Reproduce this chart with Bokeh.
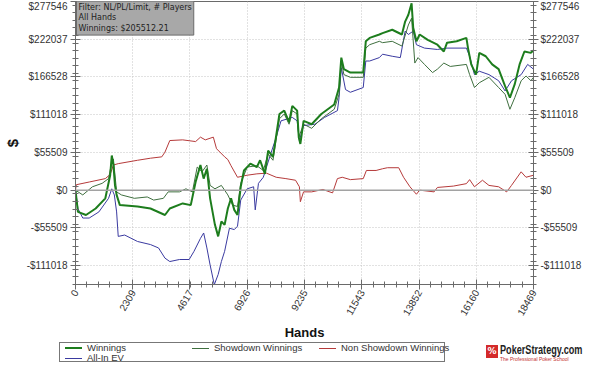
import numpy as np
from bokeh.plotting import figure
from bokeh.layouts import column
from bokeh.models import (Range1d, LinearAxis, FixedTicker, Span, Label, Div)
from bokeh.embed import file_html
from bokeh.resources import INLINE

# ---------------- data ----------------
x_tick_values = [0, 2309, 4617, 6926, 9235, 11543, 13852, 16160, 18469]
x_tick_labels = ["0", "2309", "4617", "6926", "9235", "11543", "13852", "16160", "18469"]
y_tick_values = [-111018, -55509, 0, 55509, 111018, 166528, 222037, 277546]
y_tick_labels = ["-$111018", "-$55509", "$0", "$55509", "$111018", "$166528", "$222037", "$277546"]

win_hands = [0, 98, 423, 813, 1203, 1398, 1463, 1528, 1593, 1658, 1788, 2502, 3023, 3608, 3803,
             4323, 4648, 4843, 5038, 5168, 5298, 5428, 5623, 5753, 5883, 6013, 6143, 6273, 6403,
             6533, 6663, 6793, 7053, 7313, 7443, 7638, 7768, 7963, 8223, 8418, 8613, 8743, 8938,
             9003, 9068, 9198, 9523, 9913, 10433, 10628, 10719, 10823, 11083, 11603, 11706, 11862,
             12252, 12383, 12773, 13163, 13293, 13423, 13553, 13618, 13748, 13878, 14203, 14593,
             14853, 14983, 15373, 15763, 15828, 15958, 16153, 16283, 16543, 16803, 17063, 17323,
             17518, 17713, 17908, 18103, 18363, 18469]
win_values = [0, -32000, -36500, -27000, -12000, 22000, 51000, 37000, 7000, -7000, -22000, -24000,
              -27000, -36500, -27000, -19500, -22000, 12000, 37000, 17000, 31500, -12000, -51000,
              -68000, -46000, -51000, -27000, -12000, -29000, -36500, 5000, 29000, 39000, 34000,
              44000, 24000, 58000, 49000, 112000, 117000, 100000, 124000, 117000, 78000, 68000,
              102000, 97000, 112000, 126000, 151000, 195000, 178000, 173000, 173000, 219000, 224000,
              229000, 231000, 236000, 229000, 248000, 258000, 275000, 239000, 219000, 229000,
              221000, 214000, 204000, 217000, 219000, 224000, 209000, 185000, 170000, 202000,
              197000, 185000, 178000, 153000, 136000, 156000, 185000, 204000, 202000, 205512]

sd_hands = [0, 293, 683, 1073, 1333, 1463, 1528, 1658, 1853, 2373, 2893, 3153, 3543, 3738, 4193,
            4453, 4713, 4908, 5103, 5298, 5428, 5623, 5883, 6143, 6338, 6533, 6663, 6923, 7313,
            7573, 7768, 7963, 8223, 8418, 8613, 8743, 8938, 9003, 9198, 9523, 9913, 10433, 10628,
            10719, 10823, 11083, 11603, 11706, 11862, 12252, 12383, 12773, 13163, 13423, 13553,
            13683, 13813, 14073, 14398, 14593, 14853, 15113, 15763, 15893, 16088, 16283, 16673,
            17063, 17323, 17518, 17713, 17973, 18168, 18363, 18469]
sd_values = [0, -7000, 5000, 10000, 17000, 41000, 46000, -2500, -7000, -12000, -10000, -14600,
             -12000, -2500, -2500, 2000, -2500, 34000, 27000, 37000, 7000, 2000, 7000, -7000,
             -22000, -24000, 10000, 34000, 36000, 29000, 53000, 44000, 105000, 112000, 97000,
             117000, 112000, 78000, 97000, 91000, 105000, 119000, 141000, 190000, 170000, 166000,
             166000, 209000, 214000, 219000, 217000, 219000, 212000, 243000, 253000, 187000,
             195000, 185000, 173000, 178000, 187000, 182000, 185000, 170000, 151000, 158000,
             166000, 151000, 141000, 119000, 136000, 161000, 168000, 161000, 166000]

nsd_hands = [0, 31, 554, 1201, 1396, 1529, 1724, 2504, 3023, 3479, 3608, 3803, 4321, 4844, 5039,
             5234, 5558, 5686, 6014, 6143, 6271, 6533, 6923, 7313, 7703, 8093, 8483, 8873, 9029,
             9068, 9196, 9524, 9976, 10366, 10561, 10756, 11084, 11603, 11731, 12121, 12383,
             12578, 13034, 13229, 13486, 13748, 13876, 14461, 14594, 15241, 15764, 15893, 16088,
             16411, 16673, 17063, 17386, 17581, 17971, 18166, 18469]
nsd_values = [0, 8000, 12000, 17000, 23000, 37000, 39000, 44000, 47000, 49000, 56000, 73000,
              74000, 71500, 78000, 74000, 78000, 61000, 49000, 45000, 36000, 19000, 22000, 24000,
              25000, 19000, 17000, 14600, 5000, -17000, -2500, -2500, 1000, -4000, 17000, 19000,
              15500, 17000, 29000, 29000, 31500, 33000, 33000, 19000, 5000, -6000, 0, -2500, 4000,
              6000, 9600, 15500, 5000, 14600, 7000, 5000, -2500, 7000, 27000, 19000, 22000]

ev_hands = [0, 98, 293, 553, 943, 1333, 1463, 1566, 1658, 1723, 1983, 2502, 3023, 3348, 3608,
            3803, 4193, 4583, 4778, 5038, 5168, 5298, 5428, 5597, 5753, 5883, 6013, 6208, 6403,
            6533, 6663, 6923, 7183, 7248, 7378, 7573, 7833, 8093, 8288, 8743, 8938, 9029, 9198,
            9653, 10043, 10563, 10628, 10719, 10888, 11083, 11603, 11706, 11862, 12252, 12383,
            12773, 13098, 13293, 13423, 13618, 13748, 14073, 14593, 14983, 15763, 15893, 16088,
            16283, 16673, 17063, 17323, 17583, 17973, 18233, 18469]
ev_values = [0, -27000, -41000, -41000, -32000, -12000, 2000, -7000, -32000, -68000, -66000,
             -75500, -80000, -85000, -100000, -105000, -102000, -102000, -90000, -71000, -63000,
             -85000, -110000, -139000, -124000, -105000, -90000, -56000, -58000, -53000, -14600,
             2000, 5000, -29000, 10000, 19000, 49000, 78000, 102000, 107000, 102000, 73000, 95000,
             97000, 107000, 117000, 136000, 180000, 148000, 144000, 151000, 190000, 190000,
             195000, 200000, 197000, 195000, 234000, 229000, 234000, 214000, 209000, 207000,
             209000, 209000, 197000, 170000, 175000, 170000, 161000, 146000, 161000, 170000,
             185000, 178000]

series_names = ["Winnings", "Showdown Winnings", "Non Showdown Winnings", "All-In EV"]
title_lines = ["Filter: NL/PL/Limit, # Players", "All Hands", "Winnings: $205512.21"]
logo_name = "PokerStrategy.com"
logo_tagline = "The Professional Poker School"

# ---------------- styles ----------------
Y_MIN, Y_MAX = -138773, 277546
X_MAX = 18469
AX = "#6a6a6a"
LBL = "#333333"
FONT = "Liberation Sans"
STYLES = {
    "Winnings": dict(line_color="#1d7d1d", line_width=2),
    "Showdown Winnings": dict(line_color="#3f6f3f", line_width=1),
    "Non Showdown Winnings": dict(line_color="#b53a3a", line_width=1),
    "All-In EV": dict(line_color="#3a3aa0", line_width=1),
}

# ---------------- main chart ----------------
p = figure(width=584, height=342, output_backend="svg", toolbar_location=None,
           x_range=Range1d(0, X_MAX), y_range=Range1d(Y_MIN, Y_MAX),
           min_border_left=70, min_border_right=46, min_border_top=1, min_border_bottom=54)
p.outline_line_color = AX
p.background_fill_color = "white"
p.border_fill_color = "white"

x_step = X_MAX / 8.0
x_minor = list(np.arange(0, X_MAX + 1, x_step / 5.0))
y_step = 277546 / 5.0
y_minor = list(np.arange(Y_MIN, Y_MAX + 1, y_step / 5.0))
xticker = FixedTicker(ticks=x_tick_values, minor_ticks=x_minor)
yticker = FixedTicker(ticks=y_tick_values, minor_ticks=y_minor)


def style_axis(ax, tick_in=5, tick_out=5):
    ax.axis_line_color = AX
    ax.major_tick_line_color = AX
    ax.minor_tick_line_color = AX
    ax.major_tick_in = tick_in
    ax.major_tick_out = tick_out
    ax.minor_tick_in = 3
    ax.minor_tick_out = 3
    ax.major_label_text_font = FONT
    ax.major_label_text_font_size = "10px"
    ax.major_label_text_color = LBL


xb = p.xaxis[0]
xb.ticker = xticker
xb.major_label_overrides = dict(zip(x_tick_values, x_tick_labels))
style_axis(xb)
xb.major_label_orientation = np.pi / 3
xb.major_label_standoff = 1
xb.axis_label = "Hands"
xb.axis_label_text_font = FONT
xb.axis_label_text_font_style = "bold"
xb.axis_label_text_font_size = "13px"
xb.axis_label_text_color = "#111111"
xb.axis_label_standoff = 3

yl = p.yaxis[0]
yl.ticker = yticker
yl.major_label_overrides = dict(zip(y_tick_values, y_tick_labels))
style_axis(yl)
yl.major_label_standoff = 3
yl.axis_label = "$"
yl.axis_label_text_font = FONT
yl.axis_label_text_font_style = "bold"
yl.axis_label_text_font_size = "15px"
yl.axis_label_text_color = "#111111"
yl.axis_label_standoff = 3

yr = LinearAxis(ticker=yticker, major_label_overrides=dict(zip(y_tick_values, y_tick_labels)))
style_axis(yr)
yr.major_label_standoff = 2
p.add_layout(yr, "right")

for g, t in ((p.xgrid[0], xticker), (p.ygrid[0], yticker)):
    g.ticker = t
    g.grid_line_color = "#c4c4c4"
    g.grid_line_dash = "1 2"
    g.grid_line_width = 1

p.add_layout(Span(location=0, dimension="width", line_color="#a2a2a2", line_width=1.5))

p.line(nsd_hands, nsd_values, **STYLES["Non Showdown Winnings"])
p.line(ev_hands, ev_values, **STYLES["All-In EV"])
p.line(sd_hands, sd_values, **STYLES["Showdown Winnings"])
p.line(win_hands, win_values, **STYLES["Winnings"])

info = Label(x=1, y=284, x_units="screen", y_units="screen", text="\n".join(title_lines),
             text_align="left", text_baseline="top", text_font="DejaVu Sans",
             text_font_size="8px", text_color="#1e1e1e",
             background_fill_color="#a8a8a8", border_line_color="#6a6a6a", padding=2)
p.add_layout(info)

# ---------------- footer: legend + logo (HTML) ----------------
item_html = []
for i, name in enumerate(series_names):
    col_i, row_i = i % 3, i // 3
    st = STYLES[name]
    item_html.append(
        f'<div style="position:absolute;left:{5 + 127 * col_i}px;top:{row_i * 10}px;'
        f'height:10px;line-height:10px;white-space:nowrap;">'
        f'<span style="display:inline-block;width:17px;height:0;vertical-align:middle;'
        f'border-top:{st["line_width"]}px solid {st["line_color"]};"></span>'
        f'<span style="display:inline-block;margin-left:5px;vertical-align:middle;">{name}</span>'
        f'</div>')

footer_html = (
    f'<div style="position:relative;width:584px;height:22px;'
    f'font-family:\'{FONT}\',sans-serif;font-size:9.5px;line-height:10px;color:{LBL};">'
    f'<div style="position:absolute;left:59px;top:0px;width:386px;height:20px;'
    f'border:1px solid #777777;background:#ffffff;">' + "".join(item_html) + '</div>'
    f'<div style="position:absolute;left:486px;top:3px;width:12px;height:13px;'
    f'background:#d42a2a;color:#ffffff;font:bold 9px \'DejaVu Sans\',sans-serif;'
    f'text-align:center;line-height:13px;">%</div>'
    f'<div style="position:absolute;left:500px;top:2px;white-space:nowrap;'
    f'font:bold 12px \'{FONT}\',sans-serif;color:#222222;line-height:12px;'
    f'transform:scaleX(0.76);transform-origin:0 0;">{logo_name}</div>'
    f'<div style="position:absolute;left:500px;top:15px;white-space:nowrap;'
    f'font-size:5px;line-height:5px;color:#c43030;">{logo_tagline}</div>'
    f'</div>')

footer = Div(text=footer_html, width=584, height=26, margin=0)

layout = column(p, footer, spacing=0)
open("out.html", "w").write(file_html(layout, INLINE))
